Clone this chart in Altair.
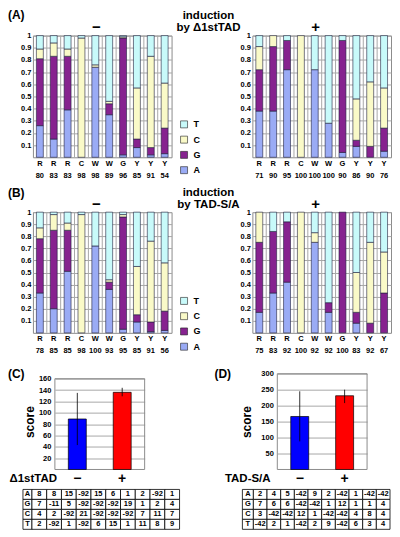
import altair as alt
import pandas as pd

FONT = "Liberation Sans"
GRID = "#a8a8a8"
FRAME = "#8c8c8c"
BAR_EDGE = "#1e1e3c"

# ---------------- data ----------------
NUC_STACK = ["A", "G", "C", "T"]          # bottom -> top
LEGEND_ORDER = ["T", "C", "G", "A"]
NUC_COLORS = ["#c8fafa", "#fafac8", "#86228f", "#9aabf5"]
Y_TICKS = [0.1, 0.2, 0.3, 0.4, 0.5, 0.6, 0.7, 0.8, 0.9, 1.0]

# (A) induction by Δ1stTAD, "−"
A_minus_letters = ["R", "R", "R", "C", "W", "W", "G", "Y", "Y", "Y"]
A_minus_numbers = ["80", "83", "83", "98", "98", "89", "96", "85", "91", "54"]
A_minus_A = [0.26, 0.15, 0.39, 0.00, 0.74, 0.35, 0.02, 0.08, 0.02, 0.03]
A_minus_G = [0.55, 0.68, 0.44, 0.00, 0.00, 0.09, 0.96, 0.07, 0.06, 0.21]
A_minus_C = [0.08, 0.11, 0.06, 0.98, 0.02, 0.02, 0.01, 0.42, 0.75, 0.37]
A_minus_T = [0.11, 0.06, 0.11, 0.02, 0.24, 0.54, 0.01, 0.43, 0.17, 0.39]

# (A) "+"
A_plus_letters = ["R", "R", "R", "C", "W", "W", "G", "Y", "Y", "Y"]
A_plus_numbers = ["71", "90", "95", "100", "100", "100", "90", "86", "90", "76"]
A_plus_A = [0.38, 0.38, 0.72, 0.00, 0.72, 0.28, 0.04, 0.09, 0.00, 0.05]
A_plus_G = [0.34, 0.53, 0.24, 0.00, 0.00, 0.00, 0.92, 0.05, 0.09, 0.19]
A_plus_C = [0.19, 0.09, 0.00, 1.00, 0.00, 0.00, 0.00, 0.34, 0.53, 0.33]
A_plus_T = [0.09, 0.00, 0.04, 0.00, 0.28, 0.72, 0.04, 0.52, 0.38, 0.43]

# (B) induction by TAD-S/A, "−"
B_minus_letters = ["R", "R", "R", "C", "W", "W", "G", "Y", "Y", "Y"]
B_minus_numbers = ["78", "85", "85", "98", "100", "93", "95", "85", "91", "56"]
B_minus_A = [0.33, 0.20, 0.51, 0.00, 0.72, 0.36, 0.03, 0.09, 0.01, 0.02]
B_minus_G = [0.45, 0.65, 0.34, 0.00, 0.00, 0.06, 0.93, 0.06, 0.08, 0.16]
B_minus_C = [0.09, 0.13, 0.06, 0.98, 0.00, 0.02, 0.02, 0.40, 0.67, 0.40]
B_minus_T = [0.13, 0.02, 0.09, 0.02, 0.28, 0.56, 0.02, 0.45, 0.24, 0.42]

# (B) "+"
B_plus_letters = ["R", "R", "R", "C", "W", "W", "G", "Y", "Y", "Y"]
B_plus_numbers = ["75", "83", "92", "100", "92", "92", "100", "83", "92", "67"]
B_plus_A = [0.17, 0.33, 0.42, 0.00, 0.75, 0.17, 0.00, 0.08, 0.00, 0.00]
B_plus_G = [0.58, 0.51, 0.50, 0.00, 0.00, 0.08, 1.00, 0.09, 0.08, 0.33]
B_plus_C = [0.25, 0.00, 0.00, 1.00, 0.08, 0.00, 0.00, 0.33, 0.67, 0.34]
B_plus_T = [0.00, 0.16, 0.08, 0.00, 0.17, 0.75, 0.00, 0.50, 0.25, 0.33]

# (C) and (D) scores
COND = ["−", "+"]
COND_COLORS = ["#0000ff", "#ff0000"]
C_score = [89, 136]
C_low = [43, 129]
C_high = [135, 144]
C_ticks = [20, 40, 60, 80, 100, 120, 140, 160]
D_score = [166, 231]
D_low = [88, 208]
D_high = [245, 250]
D_ticks = [50, 100, 150, 200, 250, 300]

# tables
TABLE_ROWS = ["A", "G", "C", "T"]
C_table = [
    [8, 8, 15, -92, 15, 6, 1, 2, -92, 1],
    [7, -11, 5, -92, -92, -92, 19, 1, 2, 4],
    [4, 2, -92, 21, -92, -92, -92, 7, 11, 7],
    [2, -92, 1, -92, 6, 15, 1, 11, 8, 9],
]
D_table = [
    [2, 4, 5, -42, 9, 2, -42, 1, -42, -42],
    [7, 6, 6, -42, -42, 1, 12, 1, 1, 4],
    [3, -42, -42, 12, 1, -42, -42, 4, 8, 4],
    [-42, 2, 1, -42, 2, 9, -42, 6, 3, 4],
]


def js(items):
    return "[" + ",".join("'" + str(s) + "'" for s in items) + "]"


def spacer(w, h, title=None):
    ch = alt.Chart(pd.DataFrame({"v": [0]})).mark_point(opacity=0).encode(
        x=alt.X("v:Q", axis=None), y=alt.Y("v:Q", axis=None)
    )
    props = dict(width=w, height=h)
    if title is not None:
        props["title"] = title
    return ch.properties(**props)


def stacked_panel(letters, numbers, fA, fG, fC, fT, title, height, show_legend):
    recs = []
    for i in range(len(letters)):
        for k, (nuc, fr) in enumerate(zip(NUC_STACK, (fA, fG, fC, fT))):
            if fr[i] > 0:
                recs.append({"pos": i, "nuc": nuc, "frac": fr[i], "k": k})
    df = pd.DataFrame(recs)
    lab = f"[{js(letters)}[datum.value], {js(numbers)}[datum.value]]"
    x_axis = alt.Axis(title=None, labelExpr=lab, labelAngle=0, labelFontSize=7.5,
                      labelLineHeight=12, labelPadding=2, labelBaseline="top",
                      labelOverlap=False, ticks=False, tickSize=0, domain=False, grid=False)
    xs = alt.Scale(paddingInner=0, paddingOuter=0)
    y_axis = alt.Axis(values=Y_TICKS, format=".1~f", title=None, labelFontSize=7.5,
                      labelPadding=2, labelOverlap=False, ticks=False, tickSize=0,
                      domain=False, grid=True, gridColor=GRID, gridWidth=1)
    if show_legend:
        leg = alt.Legend(orient="none", legendX=147, legendY=84.5, direction="vertical",
                         title=None, symbolType="square", symbolSize=49,
                         symbolStrokeColor="#222", symbolStrokeWidth=0.6,
                         labelFontSize=9, labelFontWeight="bold", labelFont=FONT,
                         labelOffset=5, rowPadding=4.3, padding=0, symbolOpacity=1)
    else:
        leg = None
    grid_df = pd.DataFrame({"pos": list(range(1, len(letters)))})
    vgrid = alt.Chart(grid_df).mark_rule(color=GRID, strokeWidth=1).encode(
        x=alt.X("pos:O", bandPosition=0, scale=xs, axis=x_axis)
    )
    bars = alt.Chart(df).mark_bar(width=alt.RelativeBandSize(0.5), stroke=BAR_EDGE,
                                  strokeWidth=0.6).encode(
        x=alt.X("pos:O", scale=xs, axis=x_axis),
        y=alt.Y("frac:Q", stack="zero", scale=alt.Scale(domain=[0, 1], nice=False), axis=y_axis),
        color=alt.Color("nuc:N", scale=alt.Scale(domain=LEGEND_ORDER, range=NUC_COLORS), legend=leg),
        order=alt.Order("k:Q", sort="ascending"),
    )
    return alt.layer(vgrid, bars).properties(
        width=139, height=height, title=title,
        view=alt.ViewBackground(stroke=FRAME, strokeWidth=1),
    )


def score_panel(scores, lows, highs, top, ticks, frame_top, xtitle, xtitle_x, ytitle_x):
    df = pd.DataFrame({"cond": COND, "score": scores, "lo": lows, "hi": highs})
    frame_df = pd.DataFrame({"lo": [0], "hi": [frame_top]})
    x_axis = alt.Axis(title=xtitle, titleX=xtitle_x, titleY=9, titleAlign="left",
                      titleBaseline="middle", titleAngle=0, titleFontSize=11.5,
                      labelAngle=0, labelFontSize=14, labelPadding=9, labelBaseline="middle",
                      ticks=False, tickSize=0, domain=False, grid=False)
    xs = alt.Scale(domain=COND, paddingInner=0, paddingOuter=0)
    y_axis = alt.Axis(values=ticks, title="score", titleX=ytitle_x, titleY=48,
                      titleBaseline="middle", titleFontSize=12, labelFontSize=7.5,
                      labelPadding=4, labelOverlap=False, ticks=False, tickSize=0,
                      domain=False, grid=True, gridColor=GRID, gridWidth=1)
    ys = alt.Scale(domain=[0, top], nice=False)
    frame = alt.Chart(frame_df).mark_rect(
        fill="white", fillOpacity=0, stroke=FRAME, strokeWidth=1
    ).encode(
        x=alt.value(0), x2=alt.value(90),
        y=alt.Y("lo:Q", scale=ys, axis=y_axis), y2="hi:Q",
    )
    bars = alt.Chart(df).mark_bar(size=18, stroke="black", strokeWidth=0.7).encode(
        x=alt.X("cond:N", sort=COND, scale=xs, axis=x_axis),
        y=alt.Y("score:Q", scale=ys, axis=y_axis),
        color=alt.Color("cond:N", scale=alt.Scale(domain=COND, range=COND_COLORS), legend=None),
    )
    err = alt.Chart(df).mark_rule(color="black", strokeWidth=0.8).encode(
        x=alt.X("cond:N", sort=COND, scale=xs, axis=x_axis),
        y=alt.Y("lo:Q", scale=ys, axis=y_axis),
        y2="hi:Q",
    )
    return alt.layer(frame, bars, err).properties(width=90, height=96)


def table_panel(rows, width, first_w, height):
    letters_df = pd.DataFrame({"row": TABLE_ROWS, "txt": TABLE_ROWS, "col": ["n"] * 4})
    recs = [{"row": r, "col": j, "txt": str(v)}
            for r, vals in zip(TABLE_ROWS, rows) for j, v in enumerate(vals)]
    vals_df = pd.DataFrame(recs)
    ys = alt.Y("row:N", sort=TABLE_ROWS, axis=None, scale=alt.Scale(paddingInner=0, paddingOuter=0))
    lx = alt.X("col:N", axis=None, scale=alt.Scale(range=[0, first_w], paddingInner=0, paddingOuter=0))
    vx = alt.X("col:O", axis=None, scale=alt.Scale(range=[first_w, width], paddingInner=0, paddingOuter=0))
    cell = dict(fill="white", stroke="black", strokeWidth=0.8)
    txt = dict(font=FONT, fontSize=7.5, fontWeight="bold", color="black")
    layers = [
        alt.Chart(letters_df).mark_rect(**cell).encode(x=lx, y=ys),
        alt.Chart(letters_df).mark_text(**txt).encode(x=lx, y=ys, text="txt:N"),
        alt.Chart(vals_df).mark_rect(**cell).encode(x=vx, y=ys),
        alt.Chart(vals_df).mark_text(**txt).encode(x=vx, y=ys, text="txt:N"),
    ]
    return alt.layer(*layers).resolve_scale(x="independent").properties(width=width, height=height)


def tp(text, **kw):
    base = dict(font=FONT, fontWeight="bold", color="black", baseline="alphabetic")
    base.update(kw)
    return alt.TitleParams(text, **base)


def row(*charts):
    return alt.hconcat(*charts, spacing=0, bounds="flush").resolve_scale(
        x="independent", y="independent", color="independent"
    ).resolve_legend(color="independent")


# ---------------- rows ----------------
spA = spacer(25, 151, tp("(A)", fontSize=12, anchor="start", frame="group", offset=5))
A_minus = stacked_panel(A_minus_letters, A_minus_numbers, A_minus_A, A_minus_G, A_minus_C, A_minus_T,
                        tp("−", fontSize=15, anchor="middle", dx=-6, offset=-15), 122, True)
legA = spacer(81, 122, tp(["induction", "by Δ1stTAD"], fontSize=11.5, lineHeight=11.5,
                          anchor="middle", frame="group", dx=-3.5, offset=-6.5))
A_plus = stacked_panel(A_plus_letters, A_plus_numbers, A_plus_A, A_plus_G, A_plus_C, A_plus_T,
                       tp("+", fontSize=15, anchor="middle", dx=-6, offset=-15), 122, False)

spB = spacer(25, 156, tp("(B)", fontSize=12, anchor="start", frame="group", offset=3.6))
B_minus = stacked_panel(B_minus_letters, B_minus_numbers, B_minus_A, B_minus_G, B_minus_C, B_minus_T,
                        tp("−", fontSize=15, anchor="middle", dx=-6, offset=-15.5), 121, True)
legB = spacer(81, 121, tp(["induction", "by TAD-S/A"], fontSize=11.5, lineHeight=11.5,
                          anchor="middle", frame="group", dx=-3.5, offset=-7))
B_plus = stacked_panel(B_plus_letters, B_plus_numbers, B_plus_A, B_plus_G, B_plus_C, B_plus_T,
                       tp("+", fontSize=15, anchor="middle", dx=-6, offset=-15.5), 121, False)

spC = spacer(47, 115, tp("(C)", fontSize=12, anchor="start", frame="group", offset=-16.4))
C_chart = score_panel(C_score, C_low, C_high, 160 * 96 / 91, C_ticks, 160, "Δ1stTAD", -46, -25)
spD = spacer(133, 96, tp("(D)", fontSize=12, anchor="start", frame="group", dx=70, offset=-16.4))
D_chart = score_panel(D_score, D_low, D_high, 300, D_ticks, 300, "TAD-S/A", -53, -31)

spT0 = spacer(15, 40)
tableC = table_panel(C_table, 157, 9, 40)
spT1 = spacer(63, 40)
tableD = table_panel(D_table, 148, 11, 40)

chart = alt.vconcat(
    row(spA, A_minus, legA, A_plus),
    row(spB, B_minus, legB, B_plus),
    row(spC, C_chart, spD, D_chart),
    row(spT0, tableC, spT1, tableD),
    spacing=0,
).resolve_scale(
    x="independent", y="independent", color="independent"
).resolve_legend(
    color="independent"
).properties(
    padding=0, background="white"
).configure_view(
    stroke=None
).configure_axis(
    labelFont=FONT, titleFont=FONT, labelFontWeight="bold", titleFontWeight="bold",
    labelColor="black", titleColor="black"
).configure_title(
    font=FONT, fontWeight="bold", color="black"
)

chart.save("out.html", embed_options={"renderer": "svg", "actions": False})
